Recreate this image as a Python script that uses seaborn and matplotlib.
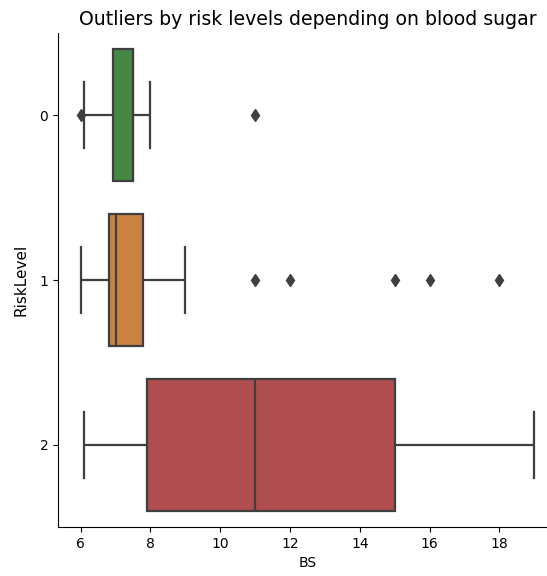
import matplotlib
matplotlib.use('Agg')
import matplotlib.pyplot as plt
import seaborn as sns
import pandas as pd

# blood sugar values per risk level
bs_risk0 = [6.0, 6.1, 6.8, 6.92, 7.0, 7.01, 7.5, 7.5, 7.5, 7.5, 7.9, 8.0, 11.0]
bs_risk1 = [6.0, 6.1, 6.4, 6.5, 6.7, 6.8, 6.8, 6.9, 6.9, 7.0, 7.0, 7.01, 7.01,
            7.01, 7.5, 7.6, 7.7, 7.8, 7.8, 9.0, 11.0, 12.0, 15.0, 16.0, 18.0]
bs_risk2 = [6.1, 7.9, 11.0, 15.0, 19.0]
risk_levels = ['0', '1', '2']
palette = ['#3a923a', '#e1812c', '#c03d3e']

df = pd.DataFrame({
    'BS': bs_risk0 + bs_risk1 + bs_risk2,
    'RiskLevel': [risk_levels[0]] * len(bs_risk0)
                 + [risk_levels[1]] * len(bs_risk1)
                 + [risk_levels[2]] * len(bs_risk2),
})

fig = plt.figure(figsize=(5.47, 5.76), dpi=100)
ax = fig.add_axes([58 / 547, 49 / 576, 499 / 547, 494 / 576])

sns.boxplot(data=df, x='BS', y='RiskLevel', hue='RiskLevel', order=risk_levels,
            palette=palette, saturation=0.75, legend=False, orient='h',
            linecolor='#3f3f3f', linewidth=1.6, width=0.8,
            flierprops=dict(marker='d', markerfacecolor='#3f3f3f',
                            markeredgecolor='#3f3f3f', markersize=6),
            ax=ax)

ax.set_xlim(5.35, 19.65)
ax.set_xticks([6, 8, 10, 12, 14, 16, 18])
ax.set_ylabel('RiskLevel', fontsize=11, labelpad=8)
ax.set_title('Outliers by risk levels depending on blood sugar', fontsize=13.6)
sns.despine(ax=ax)

plt.savefig('out.png', dpi=100)
plt.close()
